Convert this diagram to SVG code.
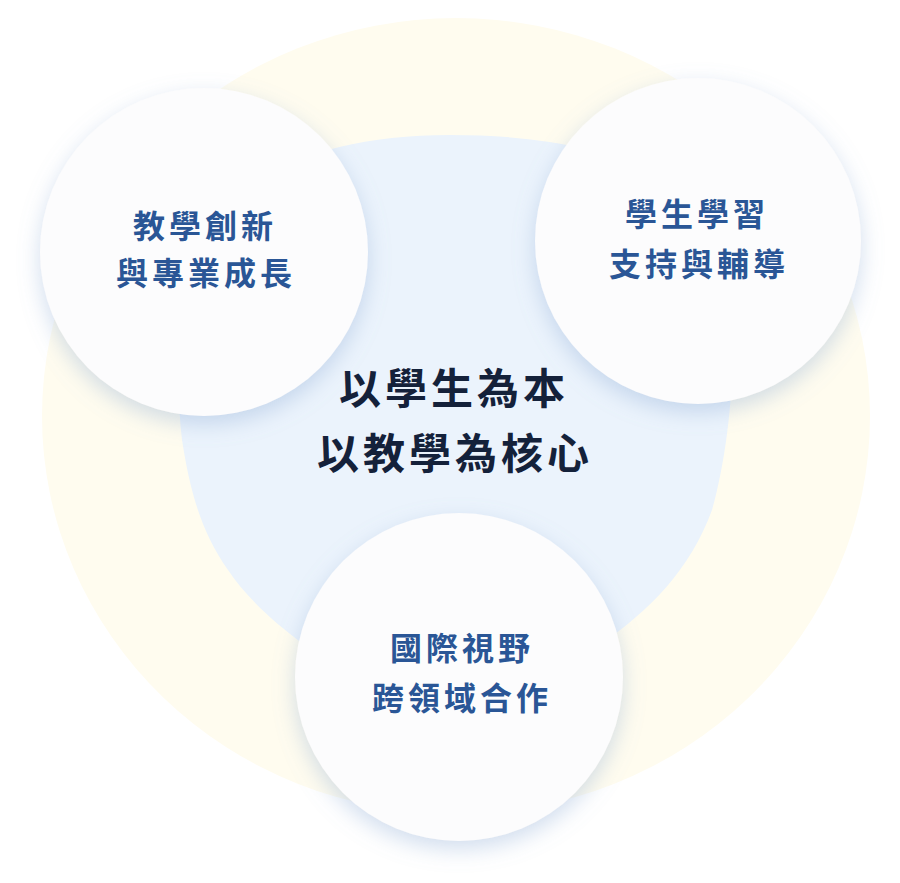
<svg xmlns="http://www.w3.org/2000/svg" width="900" height="883" viewBox="0 0 900 883">
  <defs>
    <filter id="glow" x="-30%" y="-30%" width="160%" height="160%">
      <feDropShadow dx="0" dy="8" stdDeviation="11" flood-color="#86a6d2" flood-opacity="0.38"/>
    </filter>
    <style>
      .bubble { fill: #fcfcfd; filter: url(#glow); }
      .lbl { font-family: "Noto Sans CJK TC", "Noto Sans CJK SC", sans-serif; font-weight: 700; font-size: 32px; letter-spacing: 4px; fill: #2a5696; text-anchor: middle; }
      .core { font-family: "Noto Sans CJK TC", "Noto Sans CJK SC", sans-serif; font-weight: 700; font-size: 42px; letter-spacing: 4px; fill: #14213a; text-anchor: middle; }
    </style>
  </defs>
  <rect width="900" height="883" fill="#ffffff"/>
  <g id="background">
    <ellipse cx="456" cy="416" rx="414" ry="398" fill="#fffcef"/>
    <path d="M450,135 C590,135 700,170 725,260 C740,330 732,440 712,510 C690,570 650,610 600,645 L460,690 L305,645 C270,620 245,595 228,570 C200,530 190,490 182,440 C175,380 178,300 200,240 C240,170 330,135 450,135 Z" fill="#ebf3fc"/>
  </g>
  <g id="core">
    <text class="core" x="454" y="404">以學生為本</text>
    <text class="core" x="455" y="469">以教學為核心</text>
  </g>
  <g id="node-teaching">
    <circle class="bubble" cx="204" cy="252" r="164"/>
    <text class="lbl" x="205" y="238">教學創新</text>
    <text class="lbl" x="206" y="285">與專業成長</text>
  </g>
  <g id="node-support">
    <circle class="bubble" cx="698" cy="241" r="163"/>
    <text class="lbl" x="697" y="226">學生學習</text>
    <text class="lbl" x="699" y="276">支持與輔導</text>
  </g>
  <g id="node-global">
    <circle class="bubble" cx="459" cy="677" r="164"/>
    <text class="lbl" x="462" y="660">國際視野</text>
    <text class="lbl" x="462" y="710">跨領域合作</text>
  </g>
  <g id="connectors"></g>
</svg>
